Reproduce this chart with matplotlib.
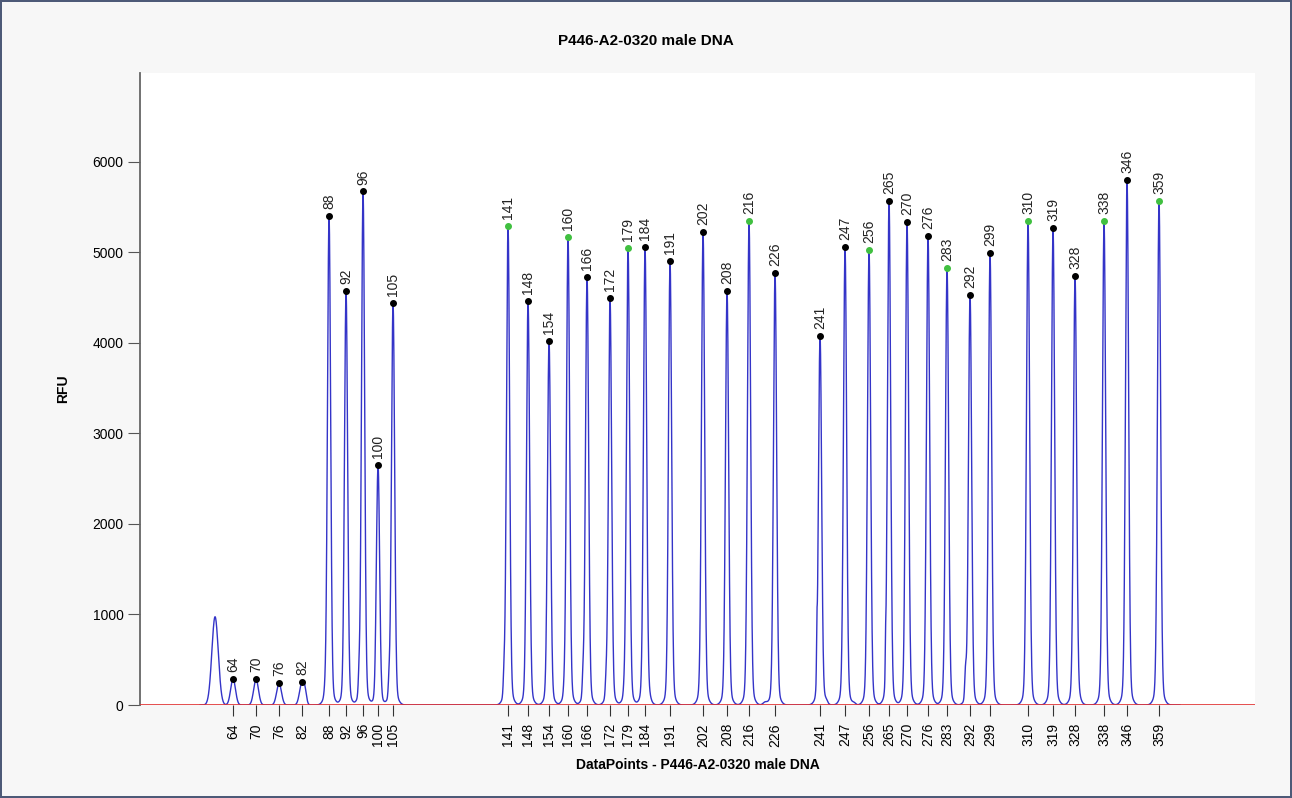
import numpy as np
import matplotlib
matplotlib.use('Agg')
from matplotlib import pyplot as plt

plt.rcParams['font.family'] = ['Liberation Sans', 'DejaVu Sans']

# peak sizes (labels), position in data points and height in RFU
sizes = ['64', '70', '76', '82', '88', '92', '96', '100', '105',
         '141', '148', '154', '160', '166', '172', '179', '184', '191',
         '202', '208', '216', '226', '241', '247', '256', '265', '270',
         '276', '283', '292', '299', '310', '319', '328', '338', '346', '359']
positions = [93, 116, 139, 162, 189, 206, 223, 238, 253,
             368, 388, 409, 428, 447, 470, 488, 505, 530,
             563, 587, 609, 635, 680, 705, 729, 749, 767,
             788, 807, 830, 850, 888, 913, 935, 964, 987, 1019]
heights = [290, 283, 239, 257, 5400, 4570, 5672, 2647, 4441,
           5290, 4459, 4020, 5165, 4731, 4492, 5047, 5059, 4904,
           5228, 4577, 5341, 4768, 4081, 5055, 5029, 5566, 5331,
           5184, 4823, 4533, 4989, 5341, 5264, 4739, 5341, 5798, 5570]
green = ['141', '160', '179', '216', '256', '283', '310', '338', '359']

# unlabelled peak, shoulders and small bumps
extra_pos = [75, 165, 185, 219, 236, 249, 364, 424, 443, 466, 484, 509,
             625, 676.8, 686, 714, 745.5, 825.5, 939]
extra_h = [975, 90, 60, 200, 90, 170, 220, 60, 220, 160, 60, 40,
           30, 420, 30, 20, 280, 300, 30]
extra_w = [3.2, 1.5, 1.0, 0.8, 0.8, 0.8, 0.8, 0.8, 0.8, 0.8, 0.8, 1.5,
           2.0, 0.35, 1.5, 1.5, 0.35, 0.8, 1.5]

xdp = np.linspace(0, 1115, 8000)
trace = np.zeros_like(xdp)
for p, h in zip(positions, heights):
    if h < 1000:
        trace += h * np.exp(-0.5 * ((xdp - p) / 2.4) ** 2)
    else:
        trace += 0.96 * h * np.exp(-0.5 * ((xdp - p) / 1.55) ** 2)
        trace += 0.04 * h * np.exp(-0.5 * ((xdp - p) / 3.8) ** 2)
for p, h, w in zip(extra_pos, extra_h, extra_w):
    trace += h * np.exp(-0.5 * ((xdp - p) / w) ** 2)
# only where the signal was recorded
trace[(xdp < 60) | (xdp > 1040)] = np.nan

fig = plt.figure(figsize=(12.92, 7.98), dpi=100)
fig.patch.set_facecolor('#f7f7f7')
fig.patch.set_edgecolor('#4d5a78')
fig.patch.set_linewidth(1.5)
ax = fig.add_axes([0.1084, 0.1165, 0.863, 0.792])
ax.set_facecolor('white')

ax.plot(xdp, trace, color='#3434c8', lw=1.0, zorder=2)
ax.axhline(0, color='#e03030', lw=1.2, zorder=3)

for lab, p, h in zip(sizes, positions, heights):
    c = '#40c040' if lab in green else 'black'
    ax.plot(p, h, 'o', color=c, ms=4, zorder=4)
    ax.annotate(lab, (p, h), xytext=(0, 5), textcoords='offset points',
                rotation=90, ha='center', va='bottom', fontsize=10, color='#222222')

ax.set_xlim(0, 1115)
ax.set_ylim(0, 6980)
ax.set_yticks([0, 1000, 2000, 3000, 4000, 5000, 6000])
ax.set_xticks(positions)
ax.set_xticklabels(sizes, rotation=90, fontsize=10)
ax.tick_params(axis='y', length=9, color='#555555', labelsize=10, pad=3)
ax.tick_params(axis='x', length=8, color='#333333', pad=5)
for s in ['top', 'right', 'bottom']:
    ax.spines[s].set_visible(False)
ax.spines['left'].set_color('#666666')
ax.spines['left'].set_linewidth(1.3)

ax.set_ylabel('RFU', fontsize=10, fontweight='bold', labelpad=16)
ax.set_xlabel('DataPoints - P446-A2-0320 male DNA', fontsize=10, fontweight='bold', labelpad=8)
fig.text(0.5, 0.948, 'P446-A2-0320 male DNA', ha='center', va='center',
         fontsize=11, fontweight='bold')

fig.savefig('out.png', dpi=100, facecolor=fig.get_facecolor(), edgecolor=fig.get_edgecolor())
